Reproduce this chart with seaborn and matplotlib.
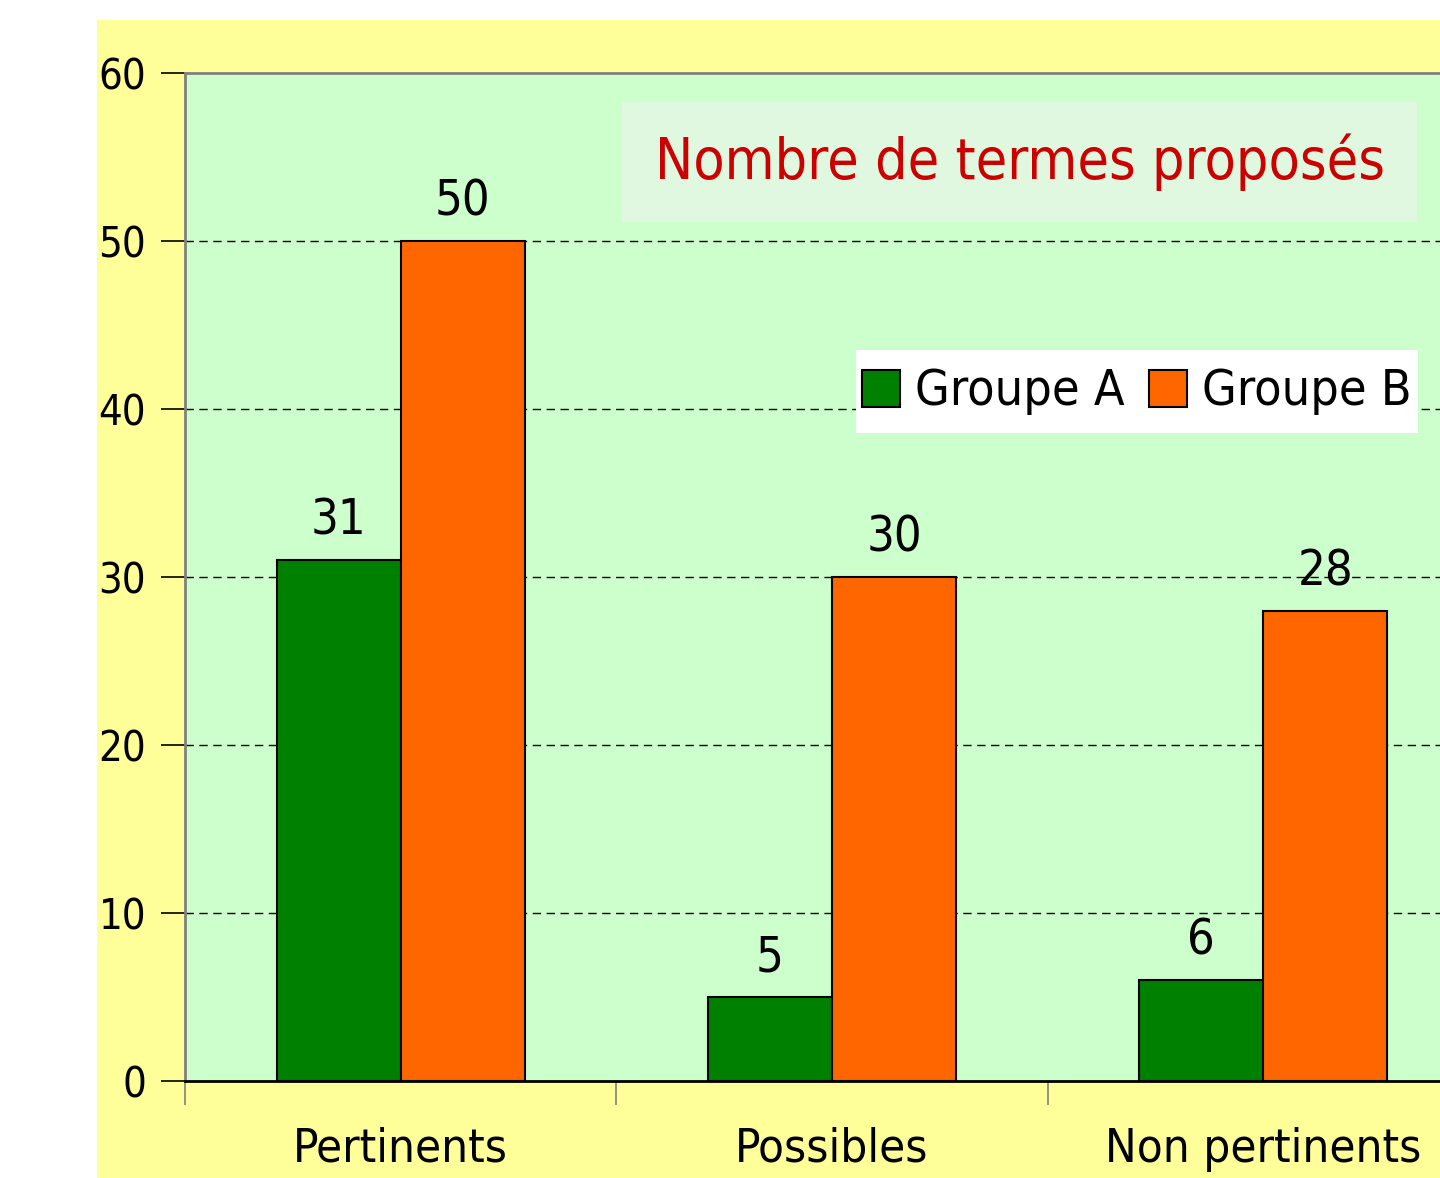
import seaborn as sns
import pandas as pd
import matplotlib.pyplot as plt
from matplotlib.patches import Rectangle, Patch

categories = ["Pertinents", "Possibles", "Non pertinents"]
groupe_a = [31, 5, 6]
groupe_b = [50, 30, 28]
groups = ["Groupe A", "Groupe B"]
colors = ["#008000", "#FF6600"]
title = "Nombre de termes proposés"

df = pd.DataFrame({
    "categorie": categories * 2,
    "groupe": [groups[0]] * 3 + [groups[1]] * 3,
    "valeur": groupe_a + groupe_b,
})

sns.set_style("white")
plt.rcParams["font.family"] = ["DejaVu Sans"]
plt.rcParams["font.stretch"] = "condensed"
plt.rcParams["text.color"] = "black"
plt.rcParams["xtick.color"] = "black"
plt.rcParams["ytick.color"] = "black"

fig = plt.figure(figsize=(14.4, 11.78), dpi=100, facecolor="white")
# yellow chart area, white strip on the left and top
fig.patches.append(Rectangle((97 / 1440, 0), 1, (1178 - 20) / 1178,
                             transform=fig.transFigure, facecolor="#FFFF99",
                             edgecolor="none", zorder=-10))

ax = fig.add_axes([185 / 1440, 97 / 1178, 1294 / 1440, 1008 / 1178])
ax.set_facecolor("#CCFFCC")

sns.barplot(data=df, x="categorie", y="valeur", hue="groupe", palette=colors,
            width=0.575, saturation=1, edgecolor="black", linewidth=1.5,
            ax=ax, legend=False, zorder=3)

ax.set_xlim(-0.5, 2.5)
ax.set_ylim(0, 60)
ax.set_yticks(range(0, 61, 10))
ax.set_xlabel("")
ax.set_ylabel("")

for y in range(10, 60, 10):
    ax.axhline(y, color="black", linestyle=(0, (6, 4)), linewidth=1, zorder=1)

for c in ax.containers:
    ax.bar_label(c, padding=11, fontsize=35, color="black")

ax.tick_params(axis="y", labelsize=30, length=17, width=1.2, color="black", pad=11,
               left=True, labelcolor="black")
ax.tick_params(axis="x", labelsize=34, length=0, pad=33, labelcolor="black")
ax.set_xticks([-0.5, 0.5, 1.5, 2.5], minor=True)
ax.tick_params(axis="x", which="minor", length=17, width=1.2, color="#808080",
               bottom=True)

for s in ["left", "top"]:
    ax.spines[s].set_color("#808080")
    ax.spines[s].set_linewidth(2)
ax.spines["bottom"].set_color("black")
ax.spines["bottom"].set_linewidth(2)
ax.spines["right"].set_visible(False)

# title box
ax.add_patch(Rectangle((0.3377, 0.8522), 0.6144, 0.119, transform=ax.transAxes,
                       facecolor="#E0F8E0", edgecolor="none", zorder=5))
ax.text(0.3377 + 0.6144 / 2, 0.8522 + 0.119 / 2, title, transform=ax.transAxes,
        ha="center", va="center", fontsize=41, color="#CC0000", zorder=6)

# legend box
ax.add_patch(Rectangle((0.5186, 0.6429), 0.4343, 0.0823, transform=ax.transAxes,
                       facecolor="white", edgecolor="none", zorder=5))
handles = [Patch(facecolor=col, edgecolor="black", linewidth=1.5) for col in colors]
leg = ax.legend(handles, groups, loc="center",
                bbox_to_anchor=(0.5186 + 0.4343 / 2, 0.6429 + 0.0823 / 2),
                ncol=2, fontsize=36, frameon=False,
                handlelength=0.76, handleheight=0.76, handletextpad=0.3,
                columnspacing=0.48, borderpad=0.3, borderaxespad=0)
leg.set_zorder(6)

fig.savefig("out.png", dpi=100, facecolor=fig.get_facecolor())
